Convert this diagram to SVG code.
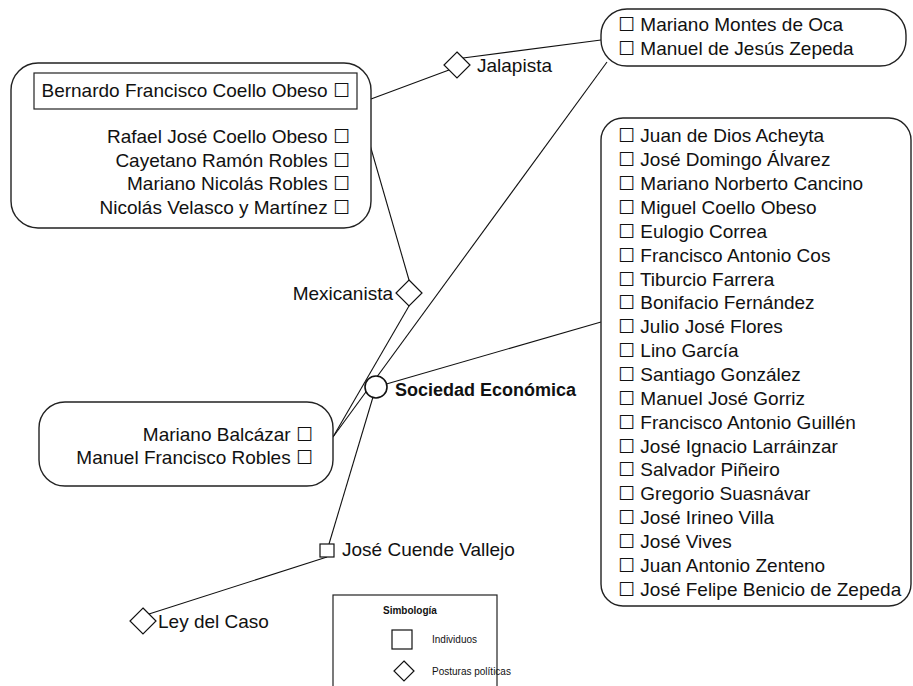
<svg xmlns="http://www.w3.org/2000/svg" width="913" height="686" viewBox="0 0 913 686">
<style>
.box{fill:#fff;stroke:#222;stroke-width:1.4}
.t{font-family:"Liberation Sans","DejaVu Sans",sans-serif;font-size:19px;fill:#111}
.r{text-anchor:end}
.b{font-weight:bold}
.sb{font-size:18px}
.lg{font-family:"Liberation Sans","DejaVu Sans",sans-serif;font-size:10px;fill:#111}
.ln{stroke:#111;stroke-width:1.1;fill:none}
.sym{fill:#fff;stroke:#111;stroke-width:1.2}
</style>
<rect width="913" height="686" fill="#fff"/>
<g id="connectors">
<line class="ln" x1="371" y1="99" x2="449" y2="70"/>
<line class="ln" x1="463" y1="58" x2="601" y2="40"/>
<line class="ln" x1="357" y1="100" x2="409" y2="280"/>
<line class="ln" x1="409" y1="306" x2="333" y2="437"/>
<line class="ln" x1="607" y1="62" x2="333" y2="437"/>
<line class="ln" x1="376" y1="387" x2="601" y2="322"/>
<line class="ln" x1="376" y1="387" x2="329" y2="544"/>
<line class="ln" x1="327" y1="557" x2="149" y2="614"/>
</g>
<g id="grupo-coello">
<rect class="box" x="11" y="63" width="360" height="165" rx="27"/>
<rect x="34" y="73" width="323" height="36" fill="#fff" stroke="#222" stroke-width="1.2"/>
<text class="t r" x="350" y="97">Bernardo Francisco Coello Obeso ☐</text>
<text class="t r" x="350" y="143">Rafael José Coello Obeso ☐</text>
<text class="t r" x="350" y="167">Cayetano Ramón Robles ☐</text>
<text class="t r" x="350" y="190">Mariano Nicolás Robles ☐</text>
<text class="t r" x="350" y="214">Nicolás Velasco y Martínez ☐</text>
</g>
<g id="jalapista">
<polygon class="sym" points="457,52 470,65 457,78 444,65"/>
<text class="t" x="477" y="72">Jalapista</text>
</g>
<g id="grupo-montes">
<rect class="box" x="601" y="9" width="305" height="57" rx="26"/>
<text class="t" x="618" y="31">☐ Mariano Montes de Oca</text>
<text class="t" x="618" y="55">☐ Manuel de Jesús Zepeda</text>
</g>
<g id="mexicanista">
<polygon class="sym" points="409,280 422,293 409,306 396,293"/>
<text class="t r" x="393" y="300">Mexicanista</text>
</g>
<g id="grupo-balcazar">
<rect class="box" x="39" y="402" width="294" height="84" rx="26"/>
<text class="t r" x="313" y="441">Mariano Balcázar ☐</text>
<text class="t r" x="313" y="464">Manuel Francisco Robles ☐</text>
</g>
<g id="sociedad-economica">
<circle cx="376" cy="387" r="11" fill="#fff" stroke="#111" stroke-width="1.6"/>
<text class="t b sb" x="395" y="396">Sociedad Económica</text>
</g>
<g id="grupo-sociedad">
<rect class="box" x="601" y="118" width="310" height="488" rx="22"/>
<text class="t" x="618" y="142">☐ Juan de Dios Acheyta</text>
<text class="t" x="618" y="166">☐ José Domingo Álvarez</text>
<text class="t" x="618" y="190">☐ Mariano Norberto Cancino</text>
<text class="t" x="618" y="213.5">☐ Miguel Coello Obeso</text>
<text class="t" x="618" y="237.5">☐ Eulogio Correa</text>
<text class="t" x="618" y="261.5">☐ Francisco Antonio Cos</text>
<text class="t" x="618" y="285.5">☐ Tiburcio Farrera</text>
<text class="t" x="618" y="309">☐ Bonifacio Fernández</text>
<text class="t" x="618" y="333">☐ Julio José Flores</text>
<text class="t" x="618" y="357">☐ Lino García</text>
<text class="t" x="618" y="381">☐ Santiago González</text>
<text class="t" x="618" y="404.5">☐ Manuel José Gorriz</text>
<text class="t" x="618" y="428.5">☐ Francisco Antonio Guillén</text>
<text class="t" x="618" y="452.5">☐ José Ignacio Larráinzar</text>
<text class="t" x="618" y="476">☐ Salvador Piñeiro</text>
<text class="t" x="618" y="500">☐ Gregorio Suasnávar</text>
<text class="t" x="618" y="524">☐ José Irineo Villa</text>
<text class="t" x="618" y="548">☐ José Vives</text>
<text class="t" x="618" y="572">☐ Juan Antonio Zenteno</text>
<text class="t" x="618" y="596">☐ José Felipe Benicio de Zepeda</text>
</g>
<g id="cuende">
<rect class="sym" x="320" y="544" width="14" height="13"/>
<text class="t" x="342" y="556">José Cuende Vallejo</text>
</g>
<g id="ley-del-caso">
<polygon class="sym" points="143,608 156,621 143,634 130,621"/>
<text class="t" x="158" y="628">Ley del Caso</text>
</g>
<g id="simbologia">
<rect x="333" y="595" width="164" height="110" fill="#fff" stroke="#222" stroke-width="1.2"/>
<text class="lg b" x="383" y="614">Simbología</text>
<rect class="sym" x="392" y="630" width="20" height="19"/>
<text class="lg" x="432" y="643">Individuos</text>
<polygon class="sym" points="404,661 414,671 404,681 394,671"/>
<text class="lg" x="432" y="675">Posturas políticas</text>
</g>
</svg>
